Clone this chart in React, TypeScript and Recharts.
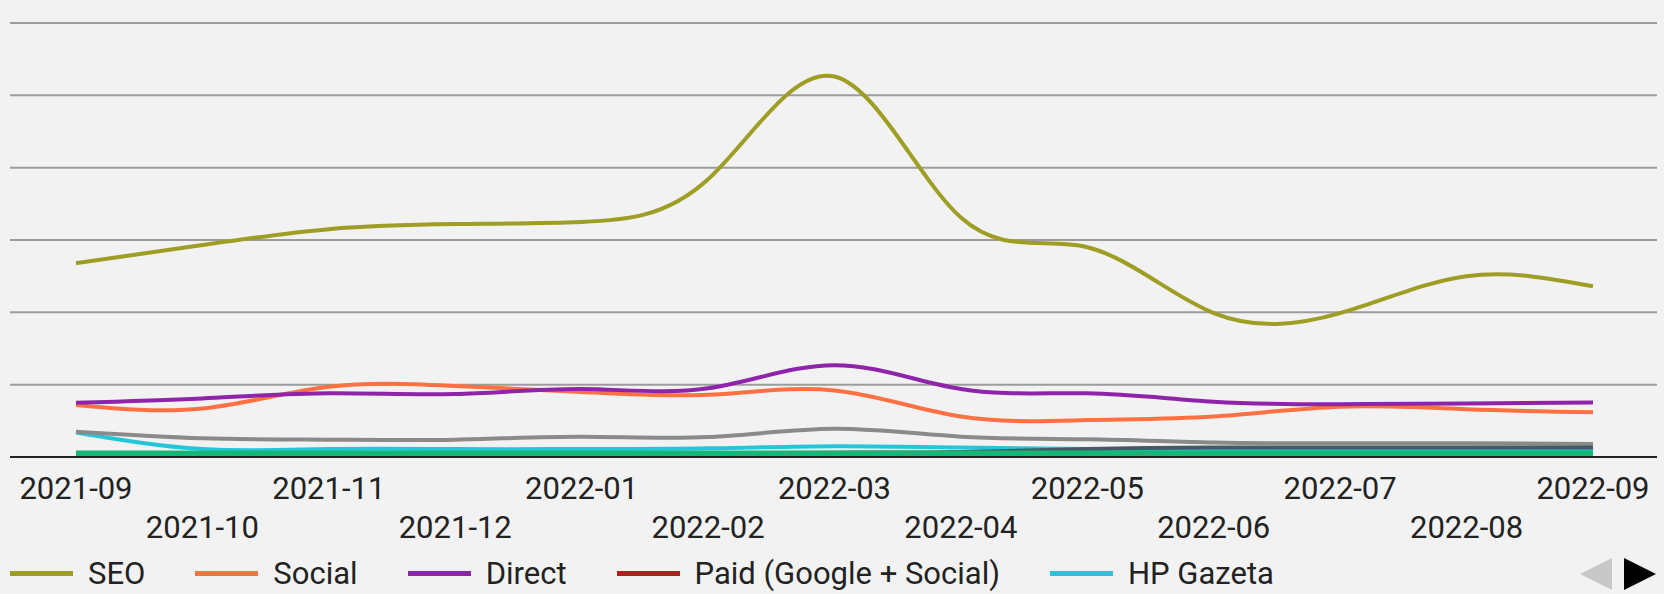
import { LineChart, Line, XAxis, YAxis, CartesianGrid, Legend } from "recharts";

// monthly points (one gridline = 10)
const months = [
  "2021-09", "2021-10", "2021-11", "2021-12", "2022-01", "2022-02", "2022-03",
  "2022-04", "2022-05", "2022-06", "2022-07", "2022-08", "2022-09",
];
const seo = [26.8, 29.3, 31.5, 32.2, 32.5, 38.4, 52.6, 33.1, 29.0, 19.9, 19.9, 25.0, 23.6];
const social = [7.2, 6.7, 9.7, 9.8, 9.0, 8.6, 9.2, 5.6, 5.1, 5.6, 6.95, 6.6, 6.2];
const direct = [7.5, 8.1, 8.8, 8.7, 9.4, 9.5, 12.7, 9.4, 8.8, 7.65, 7.3, 7.4, 7.55];
const paid = [0.2, 0.2, 0.2, 0.2, 0.2, 0.2, 0.2, 0.2, 0.2, 0.2, 0.2, 0.2, 0.2];
const hpGazeta = [3.4, 1.1, 1.1, 1.1, 1.1, 1.2, 1.5, 1.3, 1.1, 1.0, 0.9, 0.9, 0.9];
const referral = [3.5, 2.6, 2.4, 2.4, 2.8, 2.75, 3.9, 2.8, 2.45, 2.0, 1.9, 1.9, 1.8];
const other = [0.4, 0.4, 0.4, 0.4, 0.4, 0.5, 0.6, 0.7, 1.1, 1.3, 1.3, 1.3, 1.3];
const email = [0.5, 0.5, 0.5, 0.5, 0.5, 0.5, 0.5, 0.5, 0.5, 0.5, 0.5, 0.5, 0.5];
const yTicks = [0, 10, 20, 30, 40, 50, 60];

const data = months.map((month, i) => ({
  month,
  seo: seo[i],
  social: social[i],
  direct: direct[i],
  paid: paid[i],
  hpGazeta: hpGazeta[i],
  referral: referral[i],
  other: other[i],
  email: email[i],
}));

// only the first five fit on the first legend page
const series = [
  { key: "seo", name: "SEO", color: "#9e9d24", width: 4, legend: true },
  { key: "social", name: "Social", color: "#ff7043", width: 4, legend: true },
  { key: "direct", name: "Direct", color: "#8e24aa", width: 4, legend: true },
  { key: "paid", name: "Paid (Google + Social)", color: "#b71c1c", width: 4, legend: true },
  { key: "hpGazeta", name: "HP Gazeta", color: "#26c6da", width: 4, legend: true },
  { key: "referral", name: "Referral", color: "#8a8a8a", width: 4, legend: false },
  { key: "other", name: "Other", color: "#455a64", width: 4, legend: false },
  { key: "email", name: "Email", color: "#14b876", width: 6, legend: false },
];

const font = "Roboto, sans-serif";

function MonthTick({ x, y, payload, index }: any) {
  const second = index % 2 === 1;
  return (
    <text
      x={x}
      y={y}
      dy={second ? 70 : 31}
      textAnchor="middle"
      dominantBaseline="central"
      fontSize={31}
      fontFamily={font}
      fill="#222"
    >
      {payload.value}
    </text>
  );
}

function PagedLegend() {
  return (
    <div
      style={{
        display: "flex",
        alignItems: "center",
        height: 41,
        paddingLeft: 10,
        paddingRight: 6,
        fontFamily: font,
        fontSize: 31,
        color: "#222",
      }}
    >
      {series
        .filter((s) => s.legend)
        .map((s) => (
          <div key={s.key} style={{ display: "flex", alignItems: "center", marginRight: 50 }}>
            <span style={{ width: 63, height: 5, background: s.color, marginRight: 15 }} />
            <span>{s.name}</span>
          </div>
        ))}
      <svg width={80} height={36} style={{ marginLeft: "auto" }}>
        <polygon points="34,2 34,34 2,18" fill="#c8c8c8" />
        <polygon points="46,2 46,34 78,18" fill="#000" />
      </svg>
    </div>
  );
}

export default function App() {
  return (
    <div
      style={{
        position: "absolute",
        top: 0,
        left: 0,
        width: 1664,
        height: 594,
        background: "#f2f2f2",
        overflow: "hidden",
      }}
    >
      <LineChart width={1664} height={594} data={data} margin={{ top: 23, right: 7, bottom: 0, left: 10 }}>
        <CartesianGrid vertical={false} stroke="#9c9c9c" strokeWidth={2} />
        <XAxis
          dataKey="month"
          interval={0}
          height={96}
          padding={{ left: 66, right: 64 }}
          tickLine={false}
          tickSize={0}
          tickMargin={0}
          axisLine={{ stroke: "#222", strokeWidth: 2 }}
          tick={<MonthTick />}
        />
        <YAxis hide domain={[0, 60]} ticks={yTicks} />
        <Legend
          verticalAlign="bottom"
          height={41}
          width={1664}
          wrapperStyle={{ left: 0, bottom: 0 }}
          content={<PagedLegend />}
        />
        {series.map((s) => (
          <Line
            key={s.key}
            type="natural"
            dataKey={s.key}
            name={s.name}
            stroke={s.color}
            strokeWidth={s.width}
            dot={false}
            activeDot={false}
            isAnimationActive={false}
          />
        ))}
      </LineChart>
    </div>
  );
}
